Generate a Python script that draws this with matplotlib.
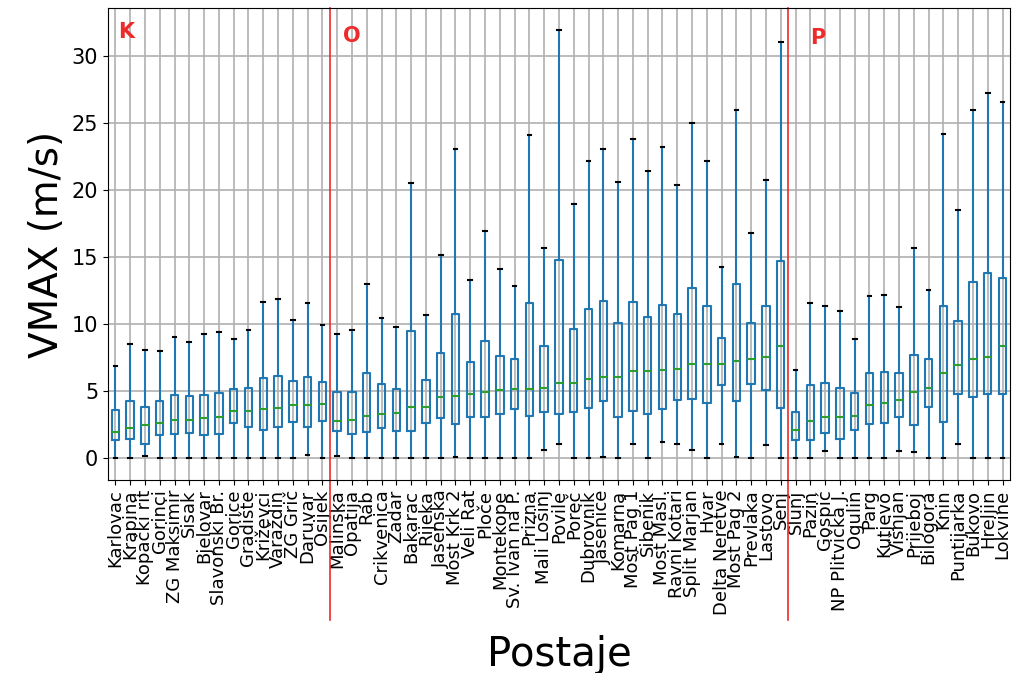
import matplotlib
matplotlib.use("Agg")
import matplotlib.pyplot as plt

# stations, grouped K / O / P
postaje = ["Karlovac", "Krapina", "Kopački rit", "Gorinci", "ZG Maksimir", "Sisak",
           "Bjelovar", "Slavonski Br.", "Gorice", "Gradište", "Križevci", "Varaždin",
           "ZG Grič", "Daruvar", "Osijek",
           "Malinska", "Opatija", "Rab", "Crikvenica", "Zadar", "Bakarac", "Rijeka",
           "Jasenska", "Most Krk 2", "Veli Rat", "Ploče", "Montekope", "Sv. Ivan na P.",
           "Prizna", "Mali Lošinj", "Povile", "Poreč", "Dubrovnik", "Jasenice", "Komarna",
           "Most Pag 1", "Šibenik", "Most Masl.", "Ravni Kotari", "Split Marjan", "Hvar",
           "Delta Neretve", "Most Pag 2", "Prevlaka", "Lastovo", "Senj",
           "Slunj", "Pazin", "Gospić", "NP Plitvička J.", "Ogulin", "Parg", "Kutjevo",
           "Višnjan", "Prijeboj", "Bilogora", "Knin", "Puntijarka", "Bukovo", "Hreljin",
           "Lokvine"]

# whisker low, Q1, median, Q3, whisker high  [m/s]
wlo = [0, 0, 0.18, 0, 0, 0, 0, 0, 0, 0, 0, 0, 0, 0.27, 0,
       0.18, 0, 0, 0, 0, 0, 0, 0, 0.08, 0, 0, 0, 0, 0, 0.65, 1.08, 0, 0, 0.1, 0,
       1.08, 0, 1.25, 1.08, 0.65, 0, 1.08, 0.1, 0, 0.98, 0,
       0, 0, 0.53, 0, 0, 0, 0, 0.53, 0.45, 0, 0, 1.08, 0, 0, 0]
q1 = [1.35, 1.48, 1.1, 1.78, 1.85, 1.93, 1.78, 1.85, 2.65, 2.35, 2.15, 2.35, 2.75, 2.35, 2.78,
      2.05, 1.85, 1.95, 2.25, 2.03, 2.03, 2.63, 2.98, 2.55, 3.08, 3.08, 3.35, 3.65, 3.18, 3.43,
      3.33, 3.43, 3.78, 4.25, 3.08, 3.55, 3.33, 3.68, 4.38, 4.45, 4.13, 5.45, 4.25, 5.58, 5.1, 3.78,
      1.35, 1.35, 1.88, 1.45, 2.15, 2.55, 2.63, 3.08, 2.48, 3.87, 2.75, 4.78, 4.58, 4.78, 4.78]
med = [1.97, 2.28, 2.48, 2.65, 2.88, 2.88, 2.98, 3.1, 3.55, 3.55, 3.68, 3.78, 3.98, 3.98, 4.08,
       2.78, 2.88, 3.18, 3.28, 3.38, 3.87, 3.87, 4.58, 4.68, 4.78, 4.98, 5.08, 5.18, 5.18, 5.28,
       5.65, 5.65, 5.95, 6.08, 6.08, 6.5, 6.5, 6.6, 6.7, 7.08, 7.08, 7.08, 7.3, 7.4, 7.58, 8.38,
       2.15, 2.78, 3.08, 3.08, 3.18, 3.98, 4.15, 4.38, 4.98, 5.28, 6.38, 6.98, 7.38, 7.58, 8.38]
q3 = [3.58, 4.25, 3.87, 4.25, 4.75, 4.68, 4.75, 4.85, 5.18, 5.28, 5.98, 6.15, 5.75, 6.08, 5.68,
      4.98, 4.98, 6.38, 5.58, 5.18, 9.48, 5.88, 7.85, 10.8, 7.18, 8.73, 7.65, 7.38, 11.6, 8.38,
      14.83, 9.68, 11.18, 11.78, 10.1, 11.68, 10.58, 11.48, 10.8, 12.68, 11.38, 8.98, 13.0, 10.1,
      11.38, 14.7,
      3.45, 5.48, 5.65, 5.28, 4.88, 6.38, 6.48, 6.38, 7.75, 7.38, 11.38, 10.28, 13.18, 13.8, 13.48]
whi = [6.9, 8.5, 8.08, 8.0, 9.08, 8.7, 9.3, 9.4, 8.9, 9.58, 11.68, 11.9, 10.3, 11.6, 9.98,
       9.3, 9.58, 13.0, 10.5, 9.78, 20.55, 10.7, 15.2, 23.1, 13.28, 16.95, 14.1, 12.9, 24.15, 15.68,
       32.0, 18.98, 22.2, 23.1, 20.6, 23.85, 21.45, 23.25, 20.4, 25.05, 22.2, 14.25, 26.0, 16.8,
       20.8, 31.05,
       6.58, 11.58, 11.38, 10.98, 8.88, 12.1, 12.2, 11.28, 15.7, 12.58, 24.2, 18.5, 26.0, 27.3, 26.6]

# group borders and group labels
granice = [15.5, 46.5]
grupe = ["K", "O", "P"]
grupe_x = [1.2, 16.4, 48.0]
grupe_y = [31.8, 31.5, 31.4]

stats = []
for i in range(len(postaje)):
    stats.append({"whislo": wlo[i], "q1": q1[i], "med": med[i], "q3": q3[i],
                  "whishi": whi[i], "label": postaje[i]})

fig = plt.figure(figsize=(10.14, 6.73), dpi=100)
fig.subplots_adjust(left=0.1065, right=0.996, top=0.988, bottom=0.287)
ax = fig.add_subplot(111)

ax.bxp(stats, positions=range(1, len(postaje) + 1), widths=0.5, showfliers=False,
       boxprops=dict(color="C0", linewidth=1.5),
       whiskerprops=dict(color="C0", linewidth=1.5),
       capprops=dict(color="k", linewidth=1.5),
       medianprops=dict(color="#2ca02c", linewidth=1.5))
ax.set_xlim(0.5, len(postaje) + 0.5)
ax.grid(True, color="#b0b0b0", linewidth=1.2)
ax.set_axisbelow(True)

ax.set_xticks(range(1, len(postaje) + 1))
ax.set_xticklabels(postaje, rotation=90, fontsize=13)
ax.tick_params(axis="y", labelsize=15)
ax.set_yticks([0, 5, 10, 15, 20, 25, 30])
ax.set_ylabel("VMAX (m/s)", fontsize=28)
ax.set_xlabel("Postaje", fontsize=29, labelpad=14)

for g in granice:
    ax.axvline(g, ymin=-0.297, ymax=1, color="#ee2a2a", linewidth=1.2, clip_on=False)
for t, gx, gy in zip(grupe, grupe_x, grupe_y):
    ax.text(gx, gy, t, color="#ee2a2a", fontsize=15, fontweight="bold", va="center")

# title sits above the canvas, only its lowest tips reach in
fig.text(68 / 1014, 1.0165, "Boxplot grouped by Postaje", fontsize=33, va="baseline")

fig.savefig("out.png", dpi=100)
